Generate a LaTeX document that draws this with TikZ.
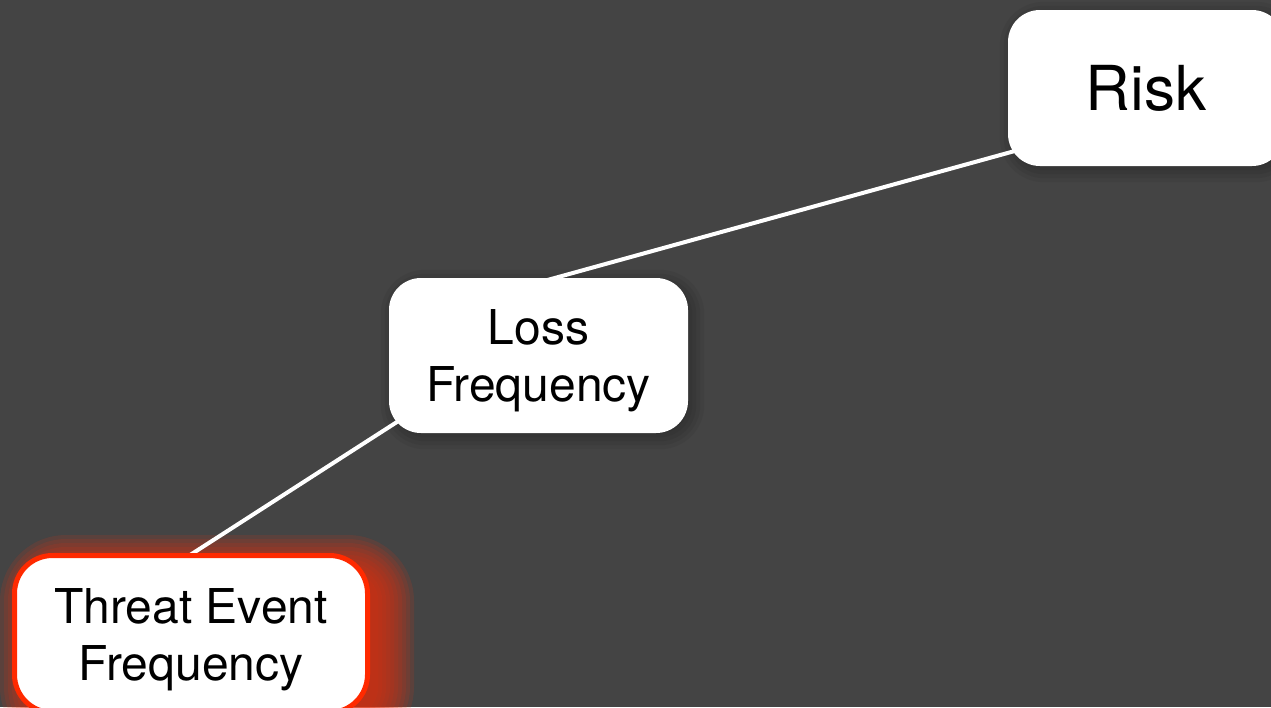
\documentclass[tikz,border=0pt]{standalone}
\usepackage{fontspec}
\setmainfont{TeX Gyre Heros}
\usetikzlibrary{calc}
\pgfdeclarelayer{bg}
\pgfdeclarelayer{edges}
\pgfsetlayers{bg,edges,main}
\definecolor{canvas}{HTML}{444444}
\definecolor{alertred}{HTML}{FF2A00}
\definecolor{glowred}{HTML}{E0300F}
\tikzset{
  card/.style={draw=none, fill=white, rounded corners=32pt, inner sep=0pt,
    align=center, text depth=0pt},
  bigtext/.style={font=\fontsize{48}{57}\selectfont},
  link/.style={draw=white, line width=4pt},
}
\begin{document}
\begin{tikzpicture}[x=1pt,y=1pt]
\useasboundingbox (0,0) rectangle (1271,-707);

% boxes
\node[card, font=\fontsize{62}{74}\selectfont, minimum width=276pt, minimum height=156pt]
  (risk) at (1146,-88) {Risk};
\node[card, bigtext, minimum width=299pt, minimum height=155pt]
  (loss) at (538.5,-355.5) {Loss\\Frequency};
\node[card, bigtext, draw=alertred, line width=5pt, rounded corners=38pt,
  minimum width=353pt, minimum height=157pt]
  (tef) at (191,-634) {Threat Event\\Frequency};

% canvas, soft shadows and glow
\begin{pgfonlayer}{bg}
  \fill[canvas] (0,0) rectangle (1271,-707);
  \foreach \n in {risk,loss}{
    \foreach \e in {-4,0,...,12}{
      \fill[black, opacity=0.05, rounded corners=32pt+\e pt]
        ($(\n.north west)+(4-\e,-4+\e)$) rectangle ($(\n.south east)+(4+\e,-4-\e)$);
    }
  }
  \foreach \e in {-8,-4,...,28}{
    \fill[glowred, opacity=0.15, rounded corners=38pt+\e pt]
      ($(tef.north west)+(16-\e,-10+\e)$) rectangle ($(tef.south east)+(16+\e,-10-\e)$);
  }
\end{pgfonlayer}

% connectors
\begin{pgfonlayer}{edges}
  \draw[link] ($(risk.center)+(-66,-45)$) -- ($(loss.center)+(-63.5,55.5)$);
  \draw[link] ($(loss.center)+(-98.5,-38.8)$) -- ($(tef.center)+(-55.3,44)$);
\end{pgfonlayer}
\end{tikzpicture}
\end{document}
